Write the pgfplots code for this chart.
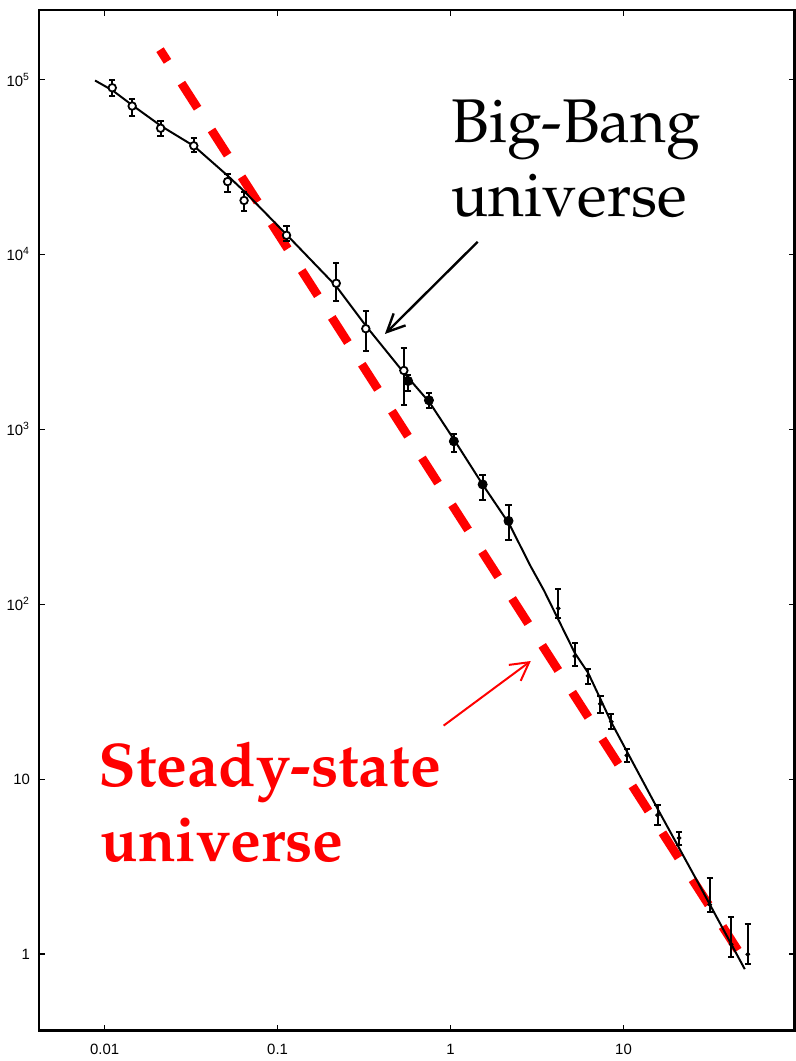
\documentclass[border=0pt]{standalone}
\usepackage[T1,TU]{fontenc}
\usepackage{fontspec}
\usepackage{pgfplots}
\usepackage{pgfplotstable}
\pgfplotsset{compat=1.18}
\usetikzlibrary{arrows.meta}
\newfontfamily\ticksf{Liberation Sans}
\newcommand\pal{\fontencoding{T1}\fontfamily{ppl}\selectfont}

% counts N(>S): x, y, error up, error down
\pgfplotstableread{
x y ep em
0.01107 89700 10300 9600
0.01443 70530 6470 8890
0.02107 52680 5060 5230
0.03277 41790 4430 3310
0.05139 26100 2750 3300
0.06401 20350 2450 2570
0.1126 12870 1740 860
0.2184 6843 2047 1435
0.3235 3764 981 953
0.5370 2172 752 785
}\openpts
\pgfplotstableread{
x y ep em
0.5684 1891 162 225
0.7501 1467 156 133
1.045 855 82 115
1.533 485 63 90
2.163 300 70 66
}\fillpts
\pgfplotstableread{
x y ep em
4.192 94.9 26.8 11.6
5.230 50.6 9.4 6.2
6.234 39.0 3.7 3.9
7.346 27.0 3.0 3.0
8.500 21.35 2.35 1.85
10.45 13.69 1.31 1.19
15.74 6.245 0.87 0.765
20.98 4.62 0.38 0.40
31.50 1.923 0.815 0.168
41.92 1.140 0.483 0.178
52.30 1.0 0.481 0.123
}\tailpts

\begin{document}
\begin{tikzpicture}
\begin{axis}[
  scale only axis, width=380pt, height=513.5pt,
  xmode=log, ymode=log,
  xmin=0.004175, xmax=97.4, ymin=0.3651, ymax=249900,
  clip=false,
  xtick={0.01,0.1,1,10}, xticklabels={0.01,0.1,1,10},
  ytick={1,10,100,1000,10000,100000},
  yticklabels={1,10,10\textsuperscript{2},10\textsuperscript{3},10\textsuperscript{4},10\textsuperscript{5}},
  minor tick style={draw=none},
  tick align=inside, major tick length=3pt,
  axis line style={line width=1.4pt},
  tick style={line width=0.8pt, black},
  tick label style={font=\ticksf\fontsize{7.5}{8.5}\selectfont},
  xticklabel style={yshift=-3pt},
  yticklabel style={xshift=-1pt},
  error bars/error bar style={line width=1pt},
  error bars/error mark options={rotate=90, mark size=1.6pt, line width=1pt},
]

% steady-state prediction
\addplot[red, line width=4.4pt, dash pattern=on 15pt off 13pt, dash phase=8pt]
  coordinates {(0.02090,148100) (45.8,1.054)};

% big-bang fit
\addplot[black, line width=1pt] coordinates {
(0.00880,98700) (0.01112,86600) (0.01449,71170) (0.02130,54070) (0.03288,41630)
(0.05162,28110) (0.06460,22800) (0.1126,12990) (0.2184,6579) (0.3247,3899)
(0.537,2108) (0.7574,1424) (1.054,866) (1.527,487) (2.183,288.5) (2.91,164.4)
(3.469,120.1) (5.23,52.7) (6.234,40.7) (7.346,28.86) (8.50,21.16) (15.89,6.67)
(26.98,2.566) (50.23,0.822)};

\addplot[only marks, black, mark=*, mark size=1.9pt, mark options={fill=white, line width=0.9pt},
  error bars/.cd, y dir=both, y explicit]
  table[x=x, y=y, y error plus=ep, y error minus=em] {\openpts};
\addplot[only marks, black, mark=*, mark size=2.3pt,
  error bars/.cd, y dir=both, y explicit]
  table[x=x, y=y, y error plus=ep, y error minus=em] {\fillpts};
\addplot[only marks, black, mark=*, mark size=1pt,
  error bars/.cd, y dir=both, y explicit]
  table[x=x, y=y, y error plus=ep, y error minus=em] {\tailpts};

\node[anchor=base west, inner sep=0pt, font=\pal\fontsize{31}{37}\selectfont]
  at (axis cs:1.01,43650) {Big-Bang};
\node[anchor=base west, inner sep=0pt, font=\pal\fontsize{31}{37}\selectfont]
  at (axis cs:1.01,16380) {universe};
\node[anchor=base west, inner sep=0pt, red, font=\pal\bfseries\fontsize{31}{37}\selectfont]
  at (axis cs:0.0092,9.04) {Steady-state};
\node[anchor=base west, inner sep=0pt, red, font=\pal\bfseries\fontsize{31}{37}\selectfont]
  at (axis cs:0.0094,3.389) {universe};

\draw[-{Straight Barb[length=9pt,width=8.5pt]}, line width=1.2pt]
  (axis cs:1.435,11810) -- (axis cs:0.4175,3512);
\draw[red, -{Straight Barb[length=9pt,width=10pt]}, line width=1pt]
  (axis cs:0.9117,20.27) -- (axis cs:2.910,47.45);
\end{axis}
\path (current axis.south west) ++(-18.5pt,-12pt);
\path (current axis.north east) ++(0.7pt,5pt);
\end{tikzpicture}
\end{document}
